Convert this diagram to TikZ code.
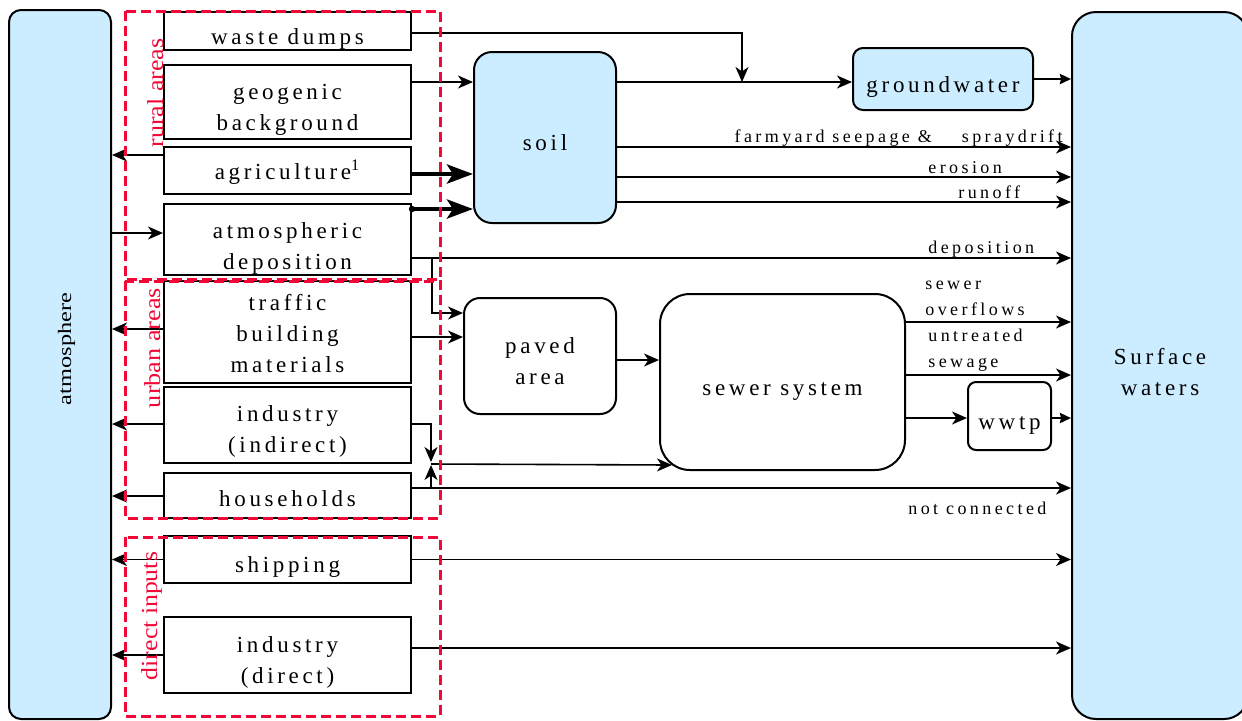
\documentclass[tikz,border=0pt]{standalone}
\usepackage{fontspec}
\setmainfont{Liberation Serif}
\newfontfamily\spacedserif{Liberation Serif}[LetterSpace=16]
\newfontfamily\flowserif{Liberation Serif}[LetterSpace=19]
\usepackage{xcolor}
\usetikzlibrary{arrows.meta,calc}
\definecolor{waterblue}{RGB}{204,236,255}
\definecolor{zonered}{RGB}{240,8,55}
\newcommand{\boxfont}{\spacedserif\fontsize{11.5}{15.5}\selectfont}
\newcommand{\flowfont}{\flowserif\fontsize{9}{13}\selectfont}
% strut that pushes a box text down a little
\newcommand{\boxlift}[1][15.5pt]{\rule{0pt}{#1}}
\tikzset{
  srcbox/.style={draw, line width=1pt, minimum width=123.5pt, inner sep=0pt, align=center, font=\boxfont},
  pool/.style={draw, line width=1pt, fill=waterblue, inner sep=0pt, align=center, font=\boxfont},
  plainpool/.style={pool, fill=none},
  flow/.style={-{Stealth[length=7.5pt,width=6.5pt,inset=2.2pt]}, line width=0.8pt},
  bigflow/.style={-{Stealth[length=13pt,width=9.5pt,inset=3pt]}, line width=2.2pt},
  shortflow/.style={-{Stealth[length=5.5pt,width=5pt,inset=0.5pt]}, line width=1.2pt},
  flowlabel/.style={font=\flowfont, inner sep=0pt},
  zone/.style={draw=zonered, line width=1.5pt, dash pattern=on 5pt off 2.5pt},
  zonelabel/.style={text=zonered, font=\fontsize{11.5}{13}\selectfont, rotate=90, anchor=base, inner sep=0pt}
}
\begin{document}
\begin{tikzpicture}[x=0.5pt,y=-0.5pt]
\useasboundingbox (0,0) rectangle (1242,720);
\clip (0,0) rectangle (1242,720);
% compartments on both sides
\node[pool, minimum width=51pt, minimum height=354.5pt, rounded corners=6pt] (atm) at (60,364.5) {};
\node[font=\fontsize{9.5}{11}\selectfont, rotate=90, xscale=1.28, anchor=base, inner sep=0pt] (atmtext) at (71,349) {atmosphere};
\node[pool, minimum width=88pt, minimum height=353.5pt, rounded corners=12pt] (surf) at (1160,365.5) {\boxlift[14.8pt]Surface\\waters};

% sources
\node[srcbox, minimum height=19pt] (waste) at (287.5,31) {\boxlift waste dumps};
\node[srcbox, minimum height=37pt] (geo) at (287.5,102) {\boxlift[15pt]geogenic\\background};
\node[srcbox, minimum height=23.5pt] (agri) at (287.5,170.5) {\boxlift[11.5pt]agriculture\textsuperscript{1}};
\node[srcbox, minimum height=35.5pt] (atmdep) at (287.5,239.5) {\boxlift[16.5pt]atmospheric\\deposition};
\node[srcbox, minimum height=51pt] (traffic) at (287.5,332) {\boxlift[9.5pt]traffic\\building\\materials};
\node[srcbox, minimum height=38pt] (indind) at (287.5,425) {\boxlift[14pt]industry\\(indirect)};
\node[srcbox, minimum height=22.5pt] (house) at (287.5,495.5) {\boxlift[11.5pt]households};
\node[srcbox, minimum height=23.5pt] (ship) at (287.5,559.5) {\boxlift shipping};
\node[srcbox, minimum height=38pt] (inddir) at (287.5,655) {\boxlift[15.5pt]industry\\(direct)};

% pathways
\node[pool, minimum width=71pt, minimum height=85.5pt, rounded corners=9pt] (soil) at (545,137.5) {\boxlift[13pt]soil};
\node[pool, minimum width=90pt, minimum height=31pt, rounded corners=5pt] (gw) at (943,79) {\boxlift groundwater};
\node[plainpool, minimum width=76pt, minimum height=58pt, rounded corners=8pt] (paved) at (540,356) {\boxlift[13pt]paved\\area};
\node[plainpool, minimum width=122.5pt, minimum height=88pt, rounded corners=15pt] (sewer) at (782.5,382) {\boxlift sewer system};
\node[plainpool, minimum width=41.5pt, minimum height=34pt, rounded corners=4pt] (wwtp) at (1009.5,416) {\boxlift wwtp};

\coordinate (wastein) at (742,82);
\coordinate (depsplit) at (432,258);
\coordinate (merge) at (431,464);

% rural flows
\draw[flow] (waste.east |- 0,33) -| (wastein);
\draw[flow] (geo.east |- 0,82) -- (soil.west |- 0,82);
\draw[flow] (soil.east |- 0,82) -- (gw.west |- 0,82);
\draw[shortflow] (gw.east) -- (surf.west |- gw.east);
\draw[flow] (agri.west |- 0,155) -- (atm.east |- 0,155);
\draw[bigflow] (agri.east |- 0,174) -- (soil.west |- 0,174);
\draw[bigflow] (atmdep.east |- 0,209) -- (soil.west |- 0,209);
\fill (atmdep.east |- 0,209) circle (1.6pt);
\draw[flow] (atm.east |- 0,233) -- (atmdep.west |- 0,233);
\draw[flow] (soil.east |- 0,147) -- (surf.west |- 0,147);
\draw[flow] (soil.east |- 0,177) -- (surf.west |- 0,177);
\draw[flow] (soil.east |- 0,202) -- (surf.west |- 0,202);
\draw[flow] (atmdep.east |- 0,258) -- (surf.west |- 0,258);
\draw[flow] (depsplit) |- (paved.west |- 0,313);

% urban flows
\draw[flow] (traffic.west |- 0,329) -- (atm.east |- 0,329);
\draw[flow] (traffic.east |- 0,337) -- (paved.west |- 0,337);
\draw[flow] (paved.east |- 0,360) -- (sewer.west |- 0,360);
\draw[flow] (indind.west |- 0,424) -- (atm.east |- 0,424);
\draw[flow] (indind.east |- 0,424) -| ($(merge)+(0,-2)$);
\draw[flow] (house.west |- 0,496) -- (atm.east |- 0,496);
\draw[flow] (house.east |- 0,488) -- (surf.west |- 0,488);
\draw[flow] (merge |- 0,488) -- ($(merge)+(0,1)$);
\draw[flow] (merge) -- ($(sewer.south west)+(13,-6)$);
\draw[flow] (sewer.east |- 0,322) -- (surf.west |- 0,322);
\draw[flow] (sewer.east |- 0,375) -- (surf.west |- 0,375);
\draw[flow] (sewer.east |- 0,418) -- (wwtp.west |- 0,418);
\draw[shortflow] (wwtp.east |- 0,418) -- (surf.west |- 0,418);

% direct inputs
\draw[flow] (ship.west) -- (atm.east |- ship.west);
\draw[flow] (ship.east) -- (surf.west |- ship.east);
\draw[flow] (inddir.west) -- (atm.east |- inddir.west);
\draw[flow] (inddir.east |- 0,648) -- (surf.west |- 0,648);

% flow labels
\node[flowlabel, anchor=base east] (seeplbl) at (1063,142) {farmyard seepage \&\hspace{15pt}spraydrift};
\node[flowlabel, anchor=base west] (erolbl) at (928,173) {erosion};
\node[flowlabel, anchor=base west] (runlbl) at (958,198) {runoff};
\node[flowlabel, anchor=base west] (deplbl) at (928,253) {deposition};
\node[flowlabel, anchor=south west, align=left] (cso) at (925,316) {sewer\\overflows};
\node[flowlabel, anchor=south west, align=left] (untr) at (928,372) {untreated\\sewage};
\node[flowlabel, anchor=base west] (notcon) at (908,514) {not connected};

% zones
\draw[zone] (125,11) rectangle (440,279);
\draw[zone] (125,281) rectangle (440,518);
\draw[zone] (125,537) rectangle (440,716);
\node[zonelabel, xscale=1.13] (ruraltag) at (163,93) {rural areas};
\node[zonelabel, xscale=1.14] (urbantag) at (160,348) {urban areas};
\node[zonelabel, xscale=1.12] (directtag) at (157,616) {direct inputs};
\end{tikzpicture}
\end{document}
